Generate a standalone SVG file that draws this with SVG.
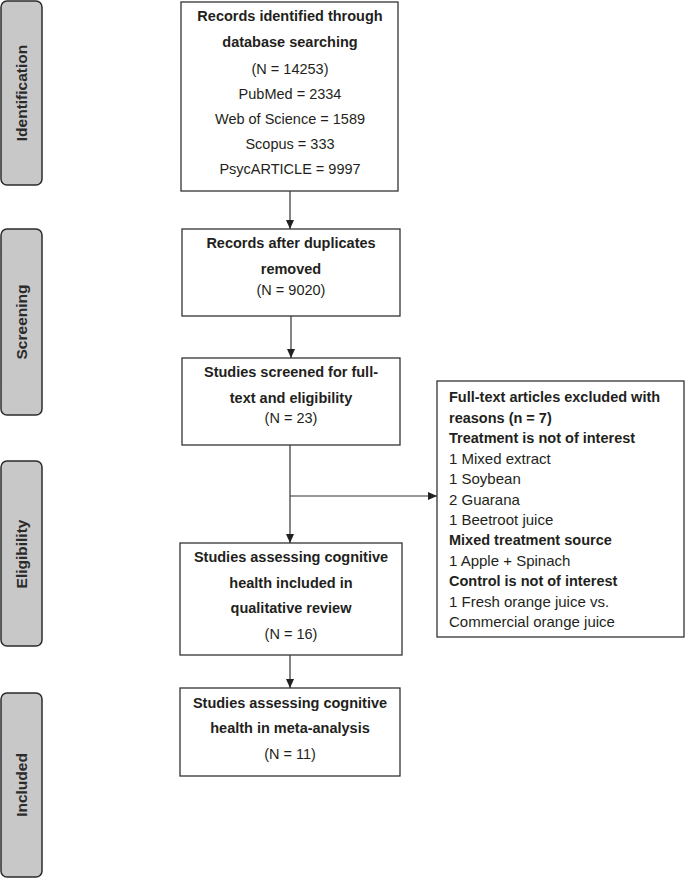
<svg xmlns="http://www.w3.org/2000/svg" width="685" height="879" viewBox="0 0 685 879">
<defs>
<marker id="ah" markerWidth="10" markerHeight="10" refX="9" refY="5" orient="auto" markerUnits="userSpaceOnUse">
<path d="M0,1 L9,5 L0,9 Z" fill="#231f20"/>
</marker>
<style>
.side rect{fill:#c8c8c8;stroke:#2b2b2b;stroke-width:1.5}
.side text{font-family:"Liberation Sans",Arial,sans-serif;font-weight:bold;font-size:15.5px;fill:#2b2b2b;text-anchor:middle}
.box rect{fill:#fff;stroke:#333;stroke-width:1.3}
.box text{font-family:"Liberation Sans",Arial,sans-serif;font-size:14.5px;fill:#231f20;text-anchor:middle}
.box text.b{font-weight:bold}
.ex text{text-anchor:start;font-size:15px}
.ex text.b{font-size:14.5px}
.conn line{stroke:#333;stroke-width:1.2;fill:none}
</style>
</defs>
<rect width="685" height="879" fill="#fff"/>
<g id="side-identification" class="side"><rect x="1" y="1" width="41" height="184" rx="6"/><text transform="translate(27,93) rotate(-90)">Identification</text></g>
<g id="side-screening" class="side"><rect x="1" y="229" width="41" height="186" rx="6"/><text transform="translate(27,322) rotate(-90)">Screening</text></g>
<g id="side-eligibility" class="side"><rect x="1" y="461" width="41" height="185" rx="6"/><text transform="translate(27,554) rotate(-90)">Eligibility</text></g>
<g id="side-included" class="side"><rect x="1" y="693" width="41" height="184" rx="6"/><text transform="translate(27,785) rotate(-90)">Included</text></g>

<g id="n1" class="box"><rect x="181" y="2" width="217" height="189"/>
<text x="290" y="21" class="b">Records identified through</text>
<text x="290" y="47" class="b">database searching</text>
<text x="290" y="74">(N = 14253)</text>
<text x="290" y="99">PubMed = 2334</text>
<text x="290" y="124">Web of Science = 1589</text>
<text x="290" y="149">Scopus = 333</text>
<text x="290" y="174">PsycARTICLE = 9997</text></g>

<g id="n2" class="box"><rect x="182" y="229" width="218" height="87"/>
<text x="291" y="248" class="b">Records after duplicates</text>
<text x="291" y="274" class="b">removed</text>
<text x="291" y="295">(N = 9020)</text></g>

<g id="n3" class="box"><rect x="182" y="358" width="218" height="87"/>
<text x="291" y="377" class="b">Studies screened for full-</text>
<text x="291" y="403" class="b">text and eligibility</text>
<text x="291" y="423">(N = 23)</text></g>

<g id="n4" class="box"><rect x="180" y="543" width="222" height="112"/>
<text x="291" y="562" class="b">Studies assessing cognitive</text>
<text x="291" y="588" class="b">health included in</text>
<text x="291" y="613" class="b">qualitative review</text>
<text x="291" y="639">(N = 16)</text></g>

<g id="n5" class="box"><rect x="180" y="688" width="220" height="88"/>
<text x="290" y="708" class="b">Studies assessing cognitive</text>
<text x="290" y="733" class="b">health in meta-analysis</text>
<text x="290" y="759">(N = 11)</text></g>

<g id="excluded" class="box ex"><rect x="437" y="381" width="247" height="256"/>
<text x="449" y="402" class="b">Full-text articles excluded with</text>
<text x="449" y="423" class="b">reasons (n = 7)</text>
<text x="449" y="443" class="b">Treatment is not of interest</text>
<text x="449" y="464">1 Mixed extract</text>
<text x="449" y="484">1 Soybean</text>
<text x="449" y="505">2 Guarana</text>
<text x="449" y="525">1 Beetroot juice</text>
<text x="449" y="545" class="b">Mixed treatment source</text>
<text x="449" y="566">1 Apple + Spinach</text>
<text x="449" y="586" class="b">Control is not of interest</text>
<text x="449" y="607">1 Fresh orange juice vs.</text>
<text x="449" y="627">Commercial orange juice</text></g>

<g id="connectors" class="conn">
<line x1="290" y1="191" x2="290" y2="229" marker-end="url(#ah)"/>
<line x1="291" y1="316" x2="291" y2="358" marker-end="url(#ah)"/>
<line x1="290" y1="445" x2="290" y2="543" marker-end="url(#ah)"/>
<line x1="290" y1="496" x2="437" y2="496" marker-end="url(#ah)"/>
<line x1="290" y1="655" x2="290" y2="688" marker-end="url(#ah)"/>
</g>
</svg>
